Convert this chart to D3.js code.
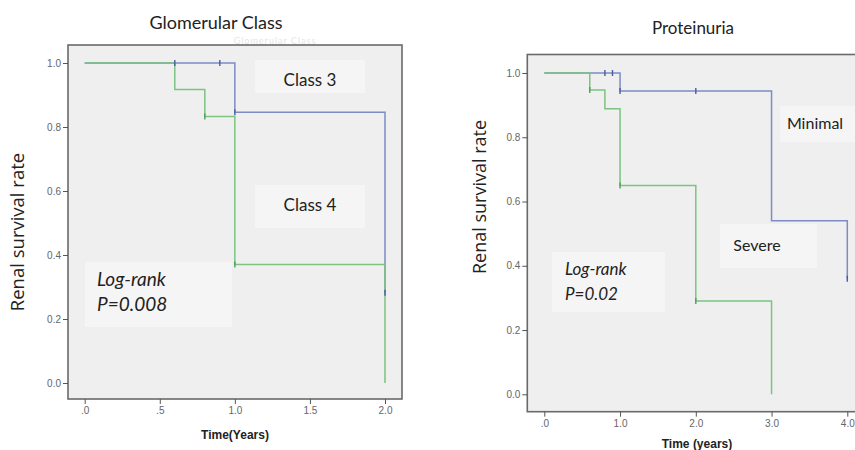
<!DOCTYPE html>
<html>
<head>
<meta charset="utf-8">
<script src="https://cdn.jsdelivr.net/npm/d3@7"></script>
<style>
  body { margin: 0; background: #fff; }
  svg { display: block; }
  .tick text { font-family: "Liberation Sans Narrow", "Liberation Sans", Arial, sans-serif; fill: #666; }
  .tick line { stroke: #555; }
</style>
</head>
<body>
<svg id="chart" width="855" height="450"></svg>
<script>
// ---- data ----
// Glomerular Class panel
const glomTicksX = [0, 0.5, 1, 1.5, 2];
const glomTickLabelsX = [".0", ".5", "1.0", "1.5", "2.0"];
const class3Steps = [[0, 1], [1.0, 0.846], [2.0, 0.282]];
const class3Censor = [[0.6, 1], [0.9, 1], [1.0, 0.846], [2.0, 0.282]];
const class4Steps = [[0, 1], [0.6, 0.917], [0.8, 0.833], [1.0, 0.37], [2.0, 0]];
const class4Censor = [[0.8, 0.833], [1.0, 0.37]];

// Proteinuria panel
const protTicksX = [0, 1, 2, 3, 4];
const protTickLabelsX = [".0", "1.0", "2.0", "3.0", "4.0"];
const minimalSteps = [[0, 1], [1.0, 0.944], [3.0, 0.54], [4.0, 0.36]];
const minimalCensor = [[0.8, 1], [0.9, 1], [1.0, 0.944], [2.0, 0.944], [4.0, 0.36]];
const severeSteps = [[0, 1], [0.6, 0.947], [0.8, 0.889], [1.0, 0.65], [2.0, 0.29], [3.0, 0]];
const severeCensor = [[0.6, 0.947], [1.0, 0.65], [2.0, 0.29]];

const survTicks = [0, 0.2, 0.4, 0.6, 0.8, 1.0];
const survTickLabels = ["0.0", "0.2", "0.4", "0.6", "0.8", "1.0"];

const BLUE = "#7e8cc6";
const BLUE_DARK = "#4c5c9e";
const GREEN = "#7cc480";
const GREEN_DARK = "#4f9f58";

const svg = d3.select("#chart");

function drawPanel(p) {
  const g = svg.append("g");

  const x = d3.scaleLinear().domain(p.xDomain).range(p.xRange);
  const y = d3.scaleLinear().domain([0, 1]).range(p.yRange);

  // plot frame
  g.append("rect")
    .attr("x", p.frame[0]).attr("y", p.frame[1])
    .attr("width", p.frame[2] - p.frame[0]).attr("height", p.frame[3] - p.frame[1])
    .attr("fill", "#efefef")
    .attr("stroke", "#6a6a6a")
    .attr("stroke-width", 1.6);

  // light label boxes pasted over the plot
  p.boxes.forEach((b) => {
    g.append("rect")
      .attr("x", b[0]).attr("y", b[1])
      .attr("width", b[2] - b[0]).attr("height", b[3] - b[1])
      .attr("fill", "#f5f5f5");
  });

  // axes sit on the frame edges, ticks point outward
  const yAxis = d3.axisLeft(y)
    .tickValues(survTicks)
    .tickFormat((d, i) => survTickLabels[i])
    .tickSize(5).tickPadding(2);
  g.append("g")
    .attr("transform", `translate(${p.frame[0]},0)`)
    .call(yAxis)
    .call((a) => a.select(".domain").remove())
    .selectAll("text").style("font-size", "10px");

  const xAxis = d3.axisBottom(x)
    .tickValues(p.xTicks)
    .tickFormat((d, i) => p.xTickLabels[i])
    .tickSize(5).tickPadding(3);
  g.append("g")
    .attr("transform", `translate(0,${p.frame[3]})`)
    .call(xAxis)
    .call((a) => a.select(".domain").remove())
    .selectAll("text").style("font-size", "10px");

  const line = d3.line()
    .x((d) => x(d[0]))
    .y((d) => y(d[1]))
    .curve(d3.curveStepAfter);

  // blue first, green over it
  p.series.forEach((s) => {
    g.append("path")
      .attr("d", line(s.steps))
      .attr("fill", "none")
      .attr("stroke", s.color)
      .attr("stroke-width", 1.5);
  });

  p.series.forEach((s) => {
    g.selectAll(null)
      .data(s.censor)
      .enter()
      .append("line")
      .attr("x1", (d) => x(d[0])).attr("x2", (d) => x(d[0]))
      .attr("y1", (d) => y(d[1]) - 3).attr("y2", (d) => y(d[1]) + 3)
      .attr("stroke", s.mark)
      .attr("stroke-width", 1.4);
  });

  // titles
  g.append("text")
    .attr("x", p.title[1]).attr("y", p.title[2])
    .attr("text-anchor", "middle")
    .style("font-family", "Lato, 'Open Sans', sans-serif")
    .style("font-size", p.title[3] + "px")
    .attr("fill", "#222")
    .text(p.title[0]);

  g.append("text")
    .attr("transform", `translate(${p.yTitle[0]},${p.yTitle[1]}) rotate(-90)`)
    .attr("text-anchor", "middle")
    .style("font-family", "'Open Sans', 'Liberation Sans', sans-serif")
    .style("font-size", p.yTitle[2] + "px")
    .attr("fill", "#222")
    .text("Renal survival rate");

  g.append("text")
    .attr("x", p.xTitle[1]).attr("y", p.xTitle[2])
    .attr("text-anchor", "middle")
    .style("font-family", "'Liberation Sans Narrow', 'Liberation Sans', Arial, sans-serif")
    .style("font-size", "12px")
    .style("font-weight", "bold")
    .attr("fill", "#222")
    .text(p.xTitle[0]);

  // annotations
  p.labels.forEach((l) => {
    g.append("text")
      .attr("x", l.x).attr("y", l.y)
      .attr("text-anchor", l.anchor || "start")
      .style("font-family", "Lato, 'Open Sans', sans-serif")
      .style("font-size", l.size + "px")
      .style("font-style", l.italic ? "italic" : "normal")
      .attr("fill", "#222")
      .text(l.text);
  });
}

drawPanel({
  xDomain: [0, 2], xRange: [84.7, 385],
  yRange: [383, 63],
  frame: [68, 45, 402, 399],
  xTicks: glomTicksX, xTickLabels: glomTickLabelsX,
  boxes: [[255, 60, 365, 93], [255, 185, 365, 228], [85, 262, 232, 327]],
  series: [
    { steps: class3Steps, censor: class3Censor, color: BLUE, mark: BLUE_DARK },
    { steps: class4Steps, censor: class4Censor, color: GREEN, mark: GREEN_DARK },
  ],
  title: ["Glomerular Class", 216, 29, 18],
  yTitle: [24, 232, 18.5],
  xTitle: ["Time(Years)", 235, 439],
  labels: [
    { text: "Class 3", x: 310, y: 86, size: 17, anchor: "middle" },
    { text: "Class 4", x: 310, y: 211, size: 17, anchor: "middle" },
    { text: "Log-rank", x: 97, y: 286, size: 19, italic: true },
    { text: "P=0.008", x: 97, y: 311, size: 19, italic: true },
  ],
});

// faint ghost of the title just above the frame
svg.append("text")
  .attr("x", 275).attr("y", 44)
  .attr("text-anchor", "middle")
  .style("font-family", "Lato, sans-serif")
  .style("font-size", "9px")
  .style("letter-spacing", "1px")
  .attr("fill", "#e6e6e6")
  .text("Glomerular Class");

drawPanel({
  xDomain: [0, 4], xRange: [544.3, 847.3],
  yRange: [394.3, 73],
  frame: [527.3, 54.5, 880, 411.7],
  xTicks: protTicksX, xTickLabels: protTickLabelsX,
  boxes: [[780, 106, 880, 142], [720, 224, 817, 268], [552, 252, 665, 312]],
  series: [
    { steps: minimalSteps, censor: minimalCensor, color: BLUE, mark: BLUE_DARK },
    { steps: severeSteps, censor: severeCensor, color: GREEN, mark: GREEN_DARK },
  ],
  title: ["Proteinuria", 693, 34, 17],
  yTitle: [486, 197, 18],
  xTitle: ["Time (years)", 697, 448],
  labels: [
    { text: "Minimal", x: 815, y: 129, size: 16, anchor: "middle" },
    { text: "Severe", x: 757, y: 251, size: 16, anchor: "middle" },
    { text: "Log-rank", x: 565, y: 275, size: 17, italic: true },
    { text: "P=0.02", x: 565, y: 300, size: 17, italic: true },
  ],
});
</script>
</body>
</html>
